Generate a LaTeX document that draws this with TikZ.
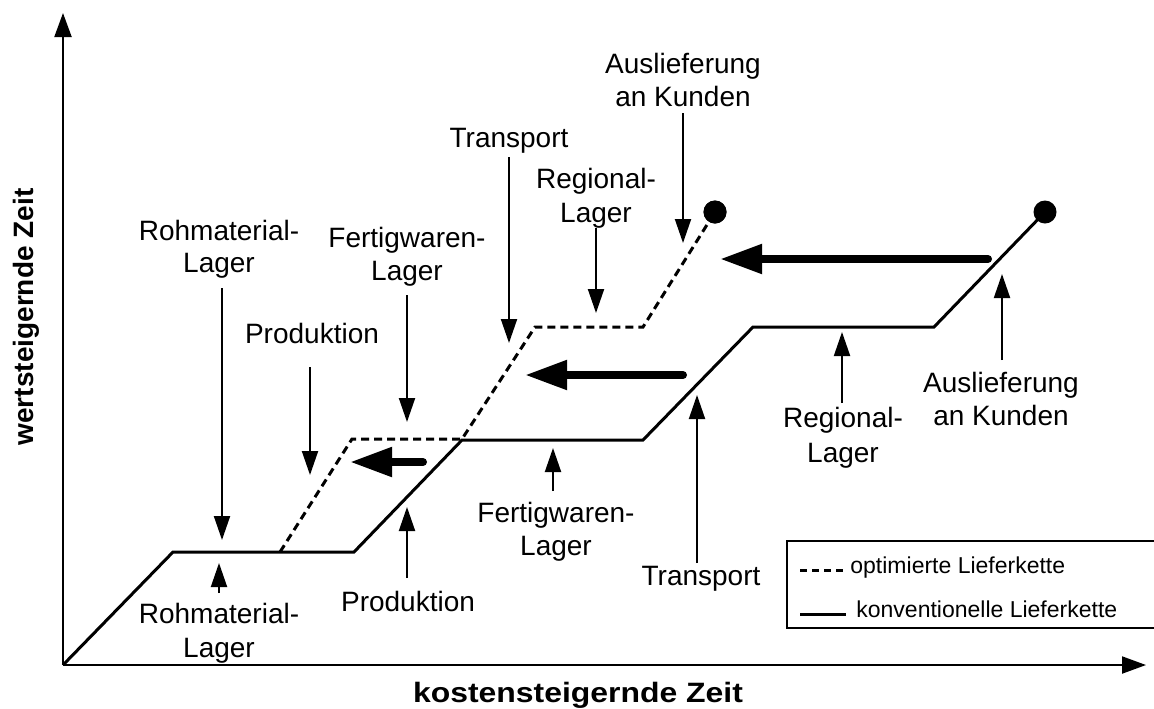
\documentclass[tikz,border=0pt]{standalone}
\usepackage{fontspec}
\setmainfont{Liberation Sans}
\usetikzlibrary{arrows.meta}

\begin{document}
\begin{tikzpicture}[x=0.5pt,y=-0.5pt,
  lbl/.style={anchor=base, inner sep=0pt, font=\fontsize{14}{16}\selectfont},
  legtext/.style={anchor=base west, inner sep=0pt, font=\fontsize{11.5}{13}\selectfont},
  axislbl/.style={anchor=base, inner sep=0pt, font=\fontsize{14}{16}\selectfont\bfseries},
  axisline/.style={line width=1pt, -{Triangle[length=12pt,width=8.5pt]}},
  conv/.style={line width=1.5pt, line join=miter},
  optim/.style={line width=1.5pt, dash pattern=on 4pt off 2.5pt},
  pointer/.style={line width=1pt, -{Triangle[length=12pt,width=8pt]}},
  shiftarrow/.style={line width=4pt, line cap=round, -{Triangle[length=21pt,width=14pt]}},
  enddot/.style={circle, fill=black, inner sep=0pt, minimum size=11.5pt},
]
\useasboundingbox (0,0) rectangle (1154,708);

% axes
\coordinate (O) at (63,665);
\coordinate (ytop) at (63,13);
\coordinate (xend) at (1146,665);
\draw[axisline] (O) -- (ytop);
\draw[axisline] (O) -- (xend);
\node[axislbl, rotate=90] (ylab) at (33,317) {wertsteigernde Zeit};
\node[axislbl] (xlab) at (578,702) {\scalebox{1.14}[1]{kostensteigernde Zeit}};

% conventional chain
\coordinate (c1) at (173,552);
\coordinate (c2) at (354,552);
\coordinate (c3) at (462,440);
\coordinate (c4) at (643,440);
\coordinate (c5) at (753,327);
\coordinate (c6) at (934,327);
\node[enddot] (cend) at (1045,212) {};
\draw[conv] (O) -- (c1) -- (c2) -- (c3) -- (c4) -- (c5) -- (c6) -- (cend.center);

% optimised chain
\coordinate (d0) at (280,552);
\coordinate (d1) at (352,439);
\coordinate (d2) at (462,439);
\coordinate (d3) at (535,327);
\coordinate (d4) at (643,327);
\node[enddot] (dend) at (715,212) {};
\draw[optim] (d0) -- (d1) -- (d2) -- (d3) -- (d4) -- (dend.center);
\node[enddot] at (dend) {};

% time savings
\coordinate (s1a) at (423,462); \coordinate (s1b) at (350,462);
\coordinate (s2a) at (683,375); \coordinate (s2b) at (525,375);
\coordinate (s3a) at (988,259); \coordinate (s3b) at (720,259);
\draw[shiftarrow] (s1a) -- (s1b);
\draw[shiftarrow] (s2a) -- (s2b);
\draw[shiftarrow] (s3a) -- (s3b);

% labels above (optimised chain)
\node[lbl] (rmA1) at (219,240) {Rohmaterial-};
\node[lbl] (rmA2) at (219,272) {Lager};
\node[lbl] (prA)  at (312,343) {Produktion};
\node[lbl] (fwA1) at (407,247) {Fertigwaren-};
\node[lbl] (fwA2) at (407,280) {Lager};
\node[lbl] (trA)  at (509,147) {Transport};
\node[lbl] (rgA1) at (596,188) {Regional-};
\node[lbl] (rgA2) at (596,222) {Lager};
\node[lbl] (auA1) at (683,73)  {Auslieferung};
\node[lbl] (auA2) at (683,106) {an Kunden};

\coordinate (p1s) at (222,288); \coordinate (p1e) at (222,540);
\coordinate (p2s) at (310,367); \coordinate (p2e) at (310,475);
\coordinate (p3s) at (407,295); \coordinate (p3e) at (407,422);
\coordinate (p4s) at (509,157); \coordinate (p4e) at (509,343);
\coordinate (p5s) at (596,228); \coordinate (p5e) at (596,313);
\coordinate (p6s) at (683,113); \coordinate (p6e) at (683,243);
\draw[pointer] (p1s) -- (p1e);
\draw[pointer] (p2s) -- (p2e);
\draw[pointer] (p3s) -- (p3e);
\draw[pointer] (p4s) -- (p4e);
\draw[pointer] (p5s) -- (p5e);
\draw[pointer] (p6s) -- (p6e);

% labels below (conventional chain)
\node[lbl] (rmB1) at (219,623) {Rohmaterial-};
\node[lbl] (rmB2) at (219,657) {Lager};
\node[lbl] (prB)  at (408,611) {Produktion};
\node[lbl] (fwB1) at (556,522) {Fertigwaren-};
\node[lbl] (fwB2) at (556,555) {Lager};
\node[lbl] (trB)  at (701,585) {Transport};
\node[lbl] (rgB1) at (843,427) {Regional-};
\node[lbl] (rgB2) at (843,462) {Lager};
\node[lbl] (auB1) at (1001,392) {Auslieferung};
\node[lbl] (auB2) at (1001,425) {an Kunden};

\coordinate (q1s) at (219,593);  \coordinate (q1e) at (219,563);
\coordinate (q2s) at (407,578);  \coordinate (q2e) at (407,507);
\coordinate (q3s) at (553,491);  \coordinate (q3e) at (553,448);
\coordinate (q4s) at (697,563);  \coordinate (q4e) at (697,395);
\coordinate (q5s) at (842,403);  \coordinate (q5e) at (842,332);
\coordinate (q6s) at (1002,360); \coordinate (q6e) at (1002,274);
\draw[pointer] (q1s) -- (q1e);
\draw[pointer] (q2s) -- (q2e);
\draw[pointer] (q3s) -- (q3e);
\draw[pointer] (q4s) -- (q4e);
\draw[pointer] (q5s) -- (q5e);
\draw[pointer] (q6s) -- (q6e);

% legend (box runs on past the right edge of the page)
\draw[line width=0.75pt] (787,541) rectangle (1170,628);
\coordinate (l1a) at (800,570); \coordinate (l1b) at (845,570);
\coordinate (l2a) at (800,614); \coordinate (l2b) at (846,614);
\draw[line width=1.5pt, dash pattern=on 3.5pt off 2.5pt] (l1a) -- (l1b);
\draw[line width=1.5pt] (l2a) -- (l2b);
\node[legtext] (leg1) at (850,573) {optimierte Lieferkette};
\node[legtext] (leg2) at (856,617) {konventionelle Lieferkette};
\end{tikzpicture}
\end{document}
